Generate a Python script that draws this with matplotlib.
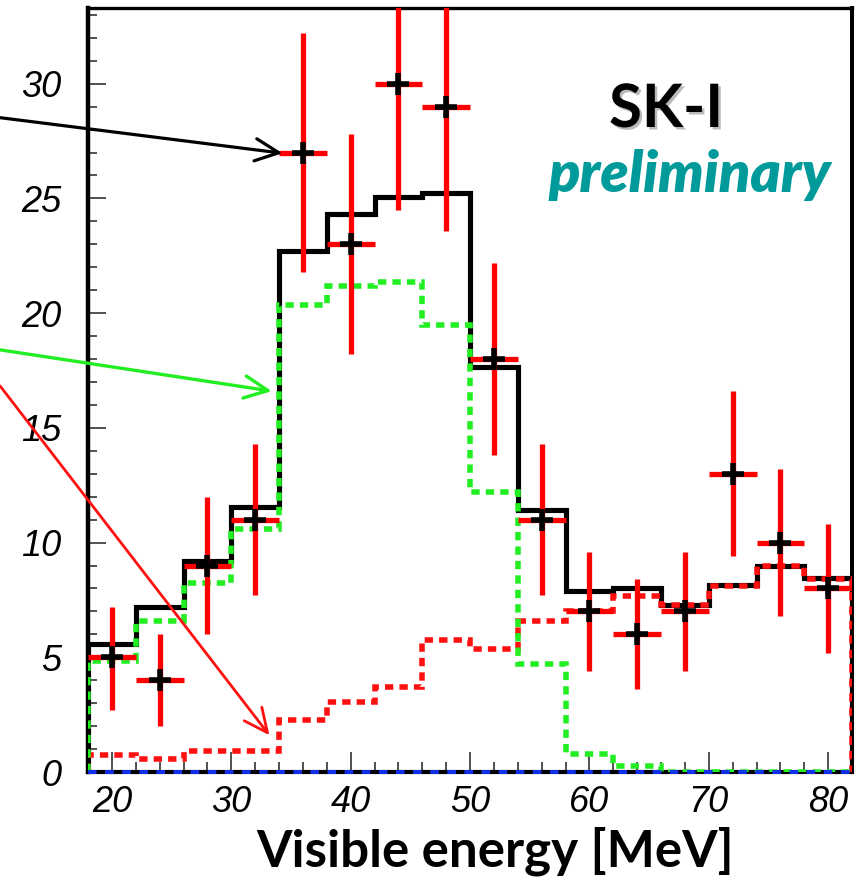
import matplotlib
matplotlib.use('Agg')
import matplotlib.pyplot as plt
import matplotlib.patheffects as pe
from matplotlib.ticker import MultipleLocator
import numpy as np

# ---- data ----
bin_edges = [18, 22, 26, 30, 34, 38, 42, 46, 50, 54, 58, 62, 66, 70, 74, 78, 82]
bin_centers = [20, 24, 28, 32, 36, 40, 44, 48, 52, 56, 60, 64, 68, 72, 76, 80]
data_counts = [5, 4, 9, 11, 27, 23, 30, 29, 18, 11, 7, 6, 7, 13, 10, 8]
data_err_up = [2.2, 2.0, 3.0, 3.3, 5.2, 4.8, 5.5, 5.4, 4.2, 3.3, 2.6, 2.4, 2.6, 3.6, 3.2, 2.8]
data_err_lo = [2.3, 2.0, 3.0, 3.3, 5.2, 4.8, 5.5, 5.4, 4.2, 3.3, 2.6, 2.4, 2.6, 3.6, 3.2, 2.8]
total_mc = [5.6, 7.2, 9.2, 11.55, 22.7, 24.3, 25.05, 25.25, 17.65, 11.4, 7.9, 8.0, 7.3, 8.15, 9.0, 8.45]
green_mc = [4.85, 6.6, 8.25, 10.6, 20.35, 21.2, 21.35, 19.5, 12.2, 4.7, 0.8, 0.25, 0.0, 0.0, 0.0, 0.0]
red_mc = [0.75, 0.55, 0.9, 0.9, 2.25, 3.05, 3.7, 5.75, 5.35, 6.6, 7.0, 7.65, 7.3, 8.1, 8.98, 8.42]
blue_mc = [0.0] * 16
xticks = [20, 30, 40, 50, 60, 70, 80]
yticks = [0, 5, 10, 15, 20, 25, 30]

W, H = 860, 886
fig = plt.figure(figsize=(W / 100, H / 100), dpi=100)
ax = fig.add_axes([88 / W, (H - 772) / H, (852 - 88) / W, (772 - 8) / H])
ax.set_xlim(18, 82)
ax.set_ylim(0, 33.3)

# histograms
ax.stairs(total_mc, bin_edges, baseline=0, color='black', lw=3.7, zorder=2)
ax.stairs(red_mc, bin_edges, baseline=0, color='#ff1010', lw=4.0,
          linestyle=(0, (1.5, 1.1)), zorder=3)
ax.stairs(green_mc, bin_edges, baseline=0, color='#22ee22', lw=4.0,
          linestyle=(0, (1.5, 1.1)), zorder=4)
ax.stairs(blue_mc, bin_edges, baseline=0, color='#1030ee', lw=2.8,
          linestyle=(0, (2.2, 2.2)), zorder=5, clip_on=False)

# data points
ax.errorbar(bin_centers, data_counts, xerr=2, yerr=[data_err_lo, data_err_up],
            fmt='none', ecolor='#ff0000', elinewidth=3.8, capsize=0, zorder=6)
ax.plot(bin_centers, data_counts, linestyle='none', marker='+', color='black',
        ms=15.5, mew=4.0, zorder=7)

# arrows
arrow_kw = dict(arrowstyle='->,head_length=0.85,head_width=0.4', mutation_scale=20,
                shrinkA=0, shrinkB=0)
ax.annotate('', xy=(34.3, 26.97), xytext=(10.63, 28.52), annotation_clip=False,
            arrowprops=dict(color='black', lw=2.3, **arrow_kw), zorder=8)
ax.annotate('', xy=(33.4, 16.6), xytext=(10.63, 18.4), annotation_clip=False,
            arrowprops=dict(color='#22ee22', lw=2.4, **arrow_kw), zorder=8)
ax.annotate('', xy=(33.2, 1.6), xytext=(10.63, 16.83), annotation_clip=False,
            arrowprops=dict(color='#ff1010', lw=2.0, **arrow_kw), zorder=8)

# spines / ticks
for s, w in [('left', 3.2), ('top', 2.4), ('right', 2.9), ('bottom', 3.0)]:
    ax.spines[s].set_linewidth(w)
    ax.spines[s].set_color('black')
ax.xaxis.set_major_locator(plt.FixedLocator(xticks))
ax.xaxis.set_minor_locator(MultipleLocator(2))
ax.yaxis.set_major_locator(plt.FixedLocator(yticks))
ax.yaxis.set_minor_locator(MultipleLocator(1))
ax.tick_params(axis='both', which='both', direction='in', color='#333333',
               top=False, right=False)
ax.tick_params(axis='y', which='major', length=13, width=1.2, pad=19)
ax.tick_params(axis='y', which='minor', length=6.5, width=1.2)
ax.tick_params(axis='x', which='major', length=14.4, width=1.2, pad=9)
ax.tick_params(axis='x', which='minor', length=7.2, width=1.2)
for lab in ax.get_xticklabels() + ax.get_yticklabels():
    lab.set_fontfamily('Liberation Sans')
    lab.set_fontstyle('italic')
    lab.set_fontsize(26)

# texts
xl = fig.text(495 / W, (H - 867) / H, 'Visible energy [MeV]', ha='center', va='baseline',
              fontsize=42, fontweight='bold', family='Lato')
sk = fig.text(666 / W, (H - 127) / H, 'SK-I', ha='center', va='baseline',
              fontsize=49, fontweight='bold', family='Lato', color='black',
              path_effects=[pe.SimplePatchShadow(offset=(1.8, -1.8), shadow_rgbFace='#777777', alpha=0.5),
                            pe.Normal()])
pr = fig.text(690 / W, (H - 192) / H, 'preliminary', ha='center', va='baseline',
              fontsize=42, fontweight='heavy', fontstyle='italic', family='Lato', color='#009a9a')

# fit text widths to the reference extents
fig.canvas.draw()
r = fig.canvas.get_renderer()
for t, target in [(xl, 478), (sk, 114), (pr, 283)]:
    w = t.get_window_extent(r).width
    t.set_fontsize(t.get_fontsize() * target / w)

fig.savefig('out.png', dpi=100)
